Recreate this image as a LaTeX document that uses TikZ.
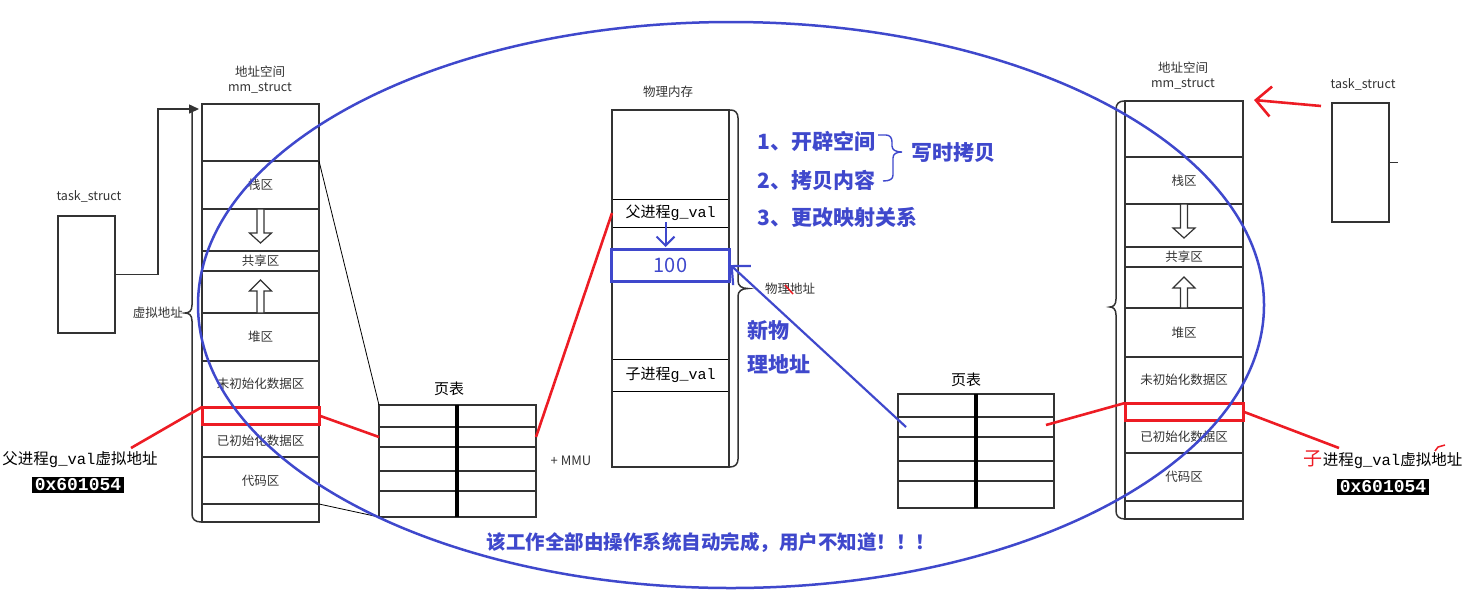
\documentclass[tikz,border=0pt]{standalone}
\usepackage{fontspec}
\setmainfont{Noto Sans CJK SC}
\setmonofont{Liberation Mono}
\usetikzlibrary{arrows.meta,calc}
\definecolor{pblue}{HTML}{3F48CC}
\definecolor{pred}{HTML}{ED1C24}
\definecolor{dk}{HTML}{333333}
\newcommand\fs[1]{\fontsize{#1}{#1}\selectfont}
\newcommand\hdown[3]{\draw[hollow] ({#1-3.5},{#2}) -- ({#1+3.5},{#2}) -- ({#1+3.5},{#3-10}) -- ({#1+11},{#3-10}) -- ({#1},{#3}) -- ({#1-11},{#3-10}) -- ({#1-3.5},{#3-10}) -- cycle;}
\newcommand\hup[3]{\draw[hollow] ({#1-3.5},{#2}) -- ({#1+3.5},{#2}) -- ({#1+3.5},{#3+11}) -- ({#1+11},{#3+11}) -- ({#1},{#3}) -- ({#1-11},{#3+11}) -- ({#1-3.5},{#3+11}) -- cycle;}
\begin{document}
\begin{tikzpicture}[x=1pt,y=-1pt,
  box/.style={draw=dk, line width=1.6pt, inner sep=0pt, outer sep=0pt, text=dk, font=\fs{12.5}},
  thinbox/.style={draw=black, line width=0.9pt, inner sep=0pt, outer sep=0pt, font=\fs{15}},
  lab/.style={inner sep=0pt, text=dk, font=\fs{12.5}},
  redl/.style={draw=pred, line width=2.6pt},
  bluet/.style={inner sep=0pt, text=pblue, font=\fs{21}\bfseries},
  hex/.style={fill=black, text=white, font=\fs{18}\ttfamily\bfseries, inner xsep=3pt, inner ysep=1.5pt},
  hollow/.style={draw=dk, line width=1.2pt, fill=white},
]
\useasboundingbox (0,0) rectangle (1463,590);

% ---------- left address space ----------
\foreach \n/\t/\b/\s in {1/104/161/{},2/161/209/栈区,3/209/251/{},4/251/271/共享区,5/271/313/{},6/313/361/堆区,7/361/407/未初始化数据区,8/407/424/{},9/424/457/已初始化数据区,10/457/504/代码区,11/504/522/{}}
  \node[box, minimum width=117pt, minimum height={(\b-\t)*1pt}] (L\n) at (260.5,{(\t+\b)/2}) {\s};
\node[draw=pred, line width=3pt, inner sep=0pt, outer sep=0pt, minimum width=117pt, minimum height=17pt] (LR) at (L8) {};
\hdown{260.5}{209}{243}
\hup{260.5}{313}{280}
\node[lab] (LAS) at (260,72) {地址空间};
\node[lab] (LMM) at (260,88) {mm\_struct};
\draw[dk, line width=1.5pt] (192,112) -- (192,305) .. controls (192,311) and (189,313) .. (185,313) .. controls (189,313) and (192,315) .. (192,321) -- (192,514) .. controls (192,519) and (195,522) .. (201,522);
\node[lab, anchor=east] (LVA) at (183,313) {虚拟地址};

\node[lab] (LTt) at (89,196) {task\_struct};
\node[box, minimum width=57pt, minimum height=117pt] (LT) at (86.5,274.5) {};
\coordinate (bendL) at (158,109);
\coordinate (tipL) at (199,109);
\draw[dk, line width=1.5pt, -{Triangle[length=10pt,width=9pt]}] (LT.east) -| (bendL) -- (tipL);

\node[inner sep=0pt, font=\fs{15.5}] (LVL) at (80,460) {父进程\texttt{g\_val}虚拟地址};
\node[hex] (LHX) at (78,485) {0x601054};

% ---------- left page table ----------
\foreach \r/\t/\b in {1/405/427,2/427/447,3/447/471,4/471/491,5/491/517}{
  \node[box, minimum width=78pt, minimum height={(\b-\t)*1pt}] (PA-\r-1) at (418,{(\t+\b)/2}) {};
  \node[box, minimum width=79pt, minimum height={(\b-\t)*1pt}] (PA-\r-2) at (496.5,{(\t+\b)/2}) {};
}
\draw[black, line width=3.5pt] (PA-1-1.north east) -- (PA-5-1.south east);
\node[lab, text=black, font=\fs{15}] (PAt) at (449,389) {页表};
\node[lab, font=\fs{13}] (MMU) at (571,461) {+ MMU};

% ---------- physical memory ----------
\foreach \n/\t/\b in {1/110/199,3/227/249,5/281/359,7/391/467}
  \node[thinbox, minimum width=117pt, minimum height={(\b-\t)*1pt}] (M\n) at (670.5,{(\t+\b)/2}) {};
\node[thinbox, minimum width=117pt, minimum height=28pt] (M2) at (670.5,213) {父进程\texttt{g\_val}};
\node[thinbox, minimum width=117pt, minimum height=32pt] (M6) at (670.5,375) {子进程\texttt{g\_val}};
\node[box, minimum width=117pt, minimum height=357pt] (M) at (670.5,288.5) {};
\node[draw=pblue, line width=3pt, inner sep=0pt, outer sep=0pt, minimum width=118pt, minimum height=32pt, text=pblue, font=\fs{20}] (M4) at (670.5,265) {100};
\node[lab] (Mt) at (668,92) {物理内存};
\draw[dk, line width=1.5pt] (729,110) -- (731,110) .. controls (735,110) and (738,113) .. (738,118) -- (738,281) .. controls (738,286) and (742,288.5) .. (748,288.5) .. controls (742,288.5) and (738,291) .. (738,296) -- (738,459) .. controls (738,464) and (735,467) .. (730,467);
\node[lab, anchor=west] (PHA) at (765,289) {物理地址};
\draw[pred, line width=1.5pt] (785,285) -- (793,294);

% ---------- blue annotations ----------
\node[bluet, anchor=west] (S1) at (757,141) {1、开辟空间};
\node[bluet, anchor=west] (S2) at (757,180) {2、拷贝内容};
\node[bluet, anchor=west] (S3) at (757,217) {3、更改映射关系};
\node[bluet, anchor=west, font=\fs{21}\bfseries] (COW) at (911,153) {写时拷贝};
\draw[pblue, line width=1.4pt] (878,135) -- (886,135) .. controls (890,135) and (892,138) .. (892,142) -- (892,146) .. controls (892,150) and (896,152) .. (902,152) .. controls (896,152) and (893,154) .. (893,158) -- (893,175) .. controls (893,179) and (890,181) .. (883,181);
\node[bluet, anchor=west] (NP1) at (747,330) {新物};
\node[bluet, anchor=west] (NP2) at (747,364) {理地址};
\node[bluet, font=\fs{19.5}\bfseries] (BOT) at (711,542) {该工作全部由操作系统自动完成，用户不知道！！！};

% ---------- right page table ----------
\foreach \r/\t/\b in {1/394/417,2/417/437,3/437/461,4/461/481,5/481/508}{
  \node[box, minimum width=78pt, minimum height={(\b-\t)*1pt}] (PB-\r-1) at (937,{(\t+\b)/2}) {};
  \node[box, minimum width=78pt, minimum height={(\b-\t)*1pt}] (PB-\r-2) at (1015,{(\t+\b)/2}) {};
}
\draw[black, line width=3.5pt] (PB-1-1.north east) -- (PB-5-1.south east);
\node[lab, text=black, font=\fs{15}] (PBt) at (966,380) {页表};

% ---------- right address space ----------
\foreach \n/\t/\b/\s in {1/101/157/{},2/157/204/栈区,3/204/247/{},4/247/267/共享区,5/267/308/{},6/308/357/堆区,7/357/403/未初始化数据区,8/403/420/{},9/420/453/已初始化数据区,10/453/501/代码区,11/501/519/{}}
  \node[box, minimum width=118pt, minimum height={(\b-\t)*1pt}] (R\n) at (1184,{(\t+\b)/2}) {\s};
\node[draw=pred, line width=3pt, inner sep=0pt, outer sep=0pt, minimum width=118pt, minimum height=17pt] (RR) at (R8) {};
\hdown{1184}{204}{238}
\hup{1184}{308}{277}
\node[lab] (RAS) at (1183,68) {地址空间};
\node[lab] (RMM) at (1183,84) {mm\_struct};
\draw[dk, line width=1.5pt] (1124,101) .. controls (1119,101) and (1116,104) .. (1116,109) -- (1116,299) .. controls (1116,305) and (1113,307) .. (1110,307) .. controls (1113,307) and (1116,309) .. (1116,315) -- (1116,511) .. controls (1116,516) and (1119,519) .. (1125,519);

\node[lab] (RTt) at (1363,84) {task\_struct};
\node[box, minimum width=57pt, minimum height=119pt] (RT) at (1360.5,162.5) {};
\draw[dk, line width=1.2pt] (RT.east) -- ++(9,0);

\node[inner sep=0pt, font=\fs{15.5}] (RVL) at (1383,460) {\textcolor{pred}{\fs{19}子}进程\texttt{g\_val}虚拟地址};
\node[hex] (RHX) at (1383,487) {0x601054};
\draw[pred, line width=1.5pt] (1435,451) -- (1438,447) -- (1445,445);

% ---------- connectors ----------
\coordinate (LVtip) at (131,448);
\draw[redl] (LVtip) -- (LR.north west);
\draw[redl] (LR.east) -- (PA-2-1.west);
\draw[redl] (PA-2-2.east) -- (M2.west);
\draw[redl] ($(PB-2-2.east)+(-8,-2)$) -- (RR.north west);
\coordinate (RVtip) at (1339,448);
\draw[redl] (RVtip) -- (RR.east);
\draw[redl, -{Straight Barb[length=15pt,width=30pt]}] ($(RT.north west)+(-11,3)$) -- ($(R1.north east)+(11,-1)$);
\draw[black, line width=0.8pt] (L2.north east) -- (PA-1-1.north west);
\draw[black, line width=0.8pt] (L11.north east) -- (PA-5-1.south west);
\draw[pblue, line width=2pt, -{Straight Barb[length=9pt,width=18pt]}] ($(M2.center)+(-5,9)$) -- ($(M4.north)+(-5,-2)$);
\draw[pblue, line width=2.2pt, -{Straight Barb[length=14pt,width=26pt]}] ($(PB-2-1.west)+(8,0)$) -- ($(M4.east)+(1,0)$);

% ---------- ellipse ----------
\draw[pblue, line width=2.5pt] (731,305) ellipse [x radius=533, y radius=283];
\end{tikzpicture}
\end{document}
